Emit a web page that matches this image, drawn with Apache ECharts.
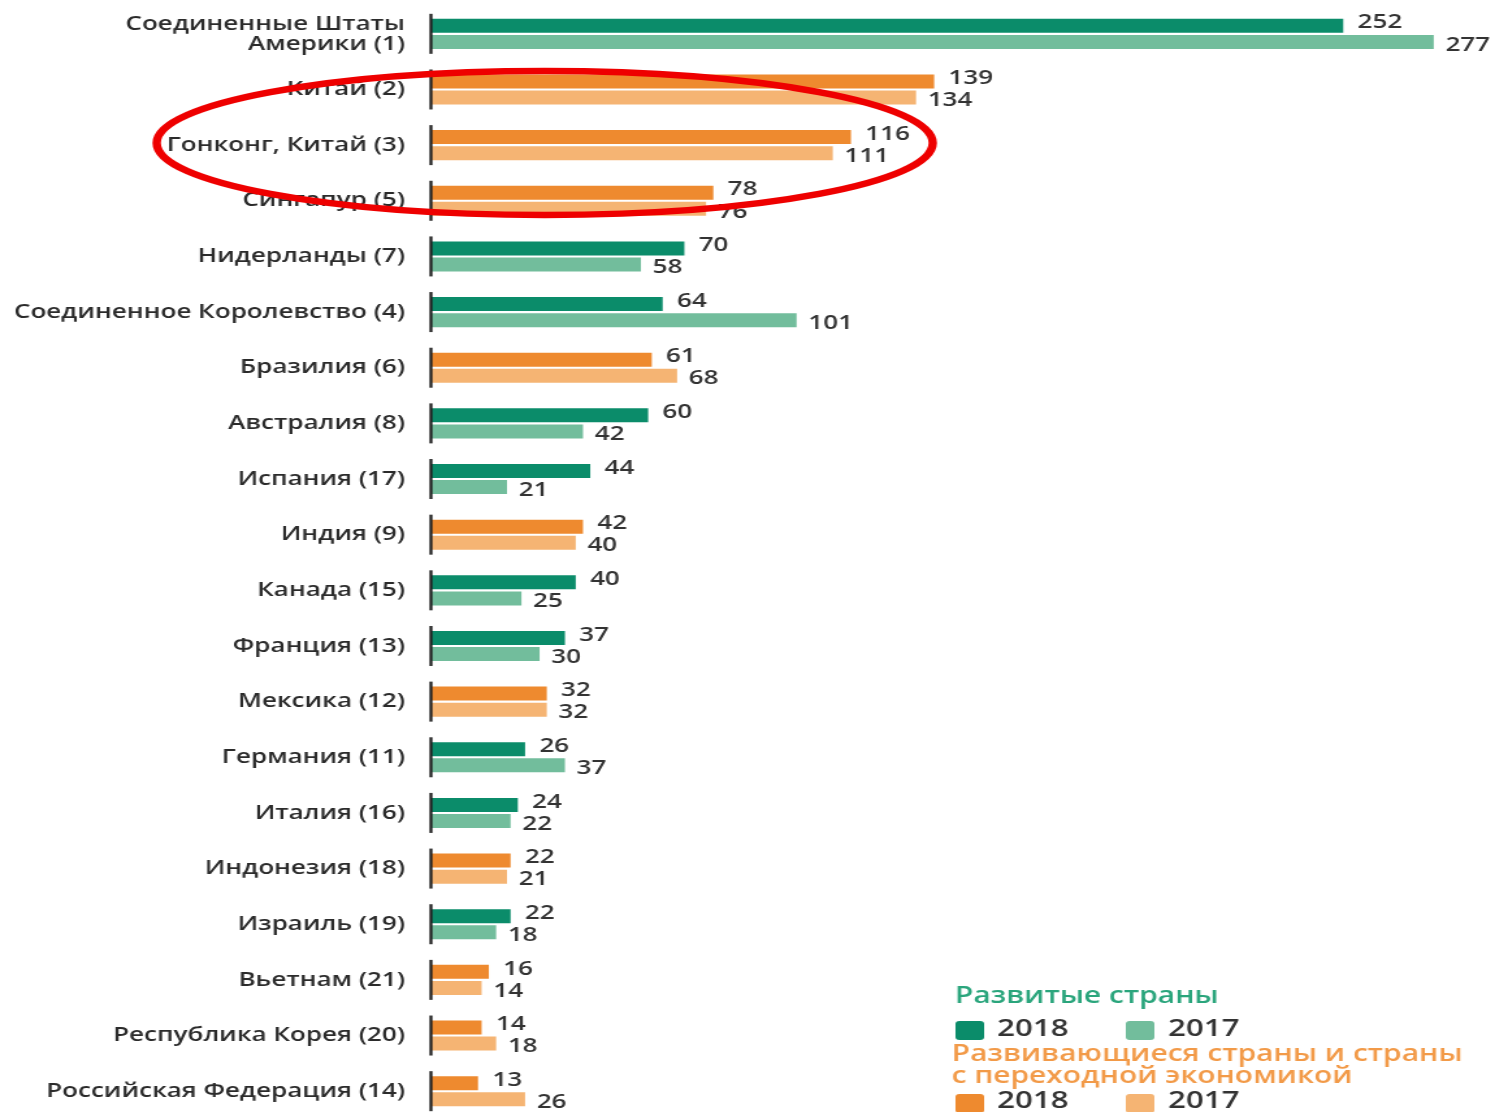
<!DOCTYPE html>
<html><head><meta charset="utf-8">
<script src="https://cdn.jsdelivr.net/npm/echarts@6/dist/echarts.min.js"></script>
<style>
html,body{margin:0;padding:0;background:#fff;overflow:hidden;width:1501px;height:1112px}
#c{width:1155px;height:1125px;transform:scaleX(1.3);transform-origin:0 0}
</style>
</head><body><div id="c"></div>
<script>
const categories = [
  'Соединенные Штаты\nАмерики (1)','Китай (2)','Гонконг, Китай (3)','Сингапур (5)','Нидерланды (7)',
  'Соединенное Королевство (4)','Бразилия (6)','Австралия (8)','Испания (17)','Индия (9)',
  'Канада (15)','Франция (13)','Мексика (12)','Германия (11)','Италия (16)',
  'Индонезия (18)','Израиль (19)','Вьетнам (21)','Республика Корея (20)','Российская Федерация (14)'
];
// 'dev' = developed, 'devg' = developing / transition economies
const groups = ['dev','devg','devg','devg','dev','dev','devg','dev','dev','devg',
                'dev','dev','devg','dev','dev','devg','dev','devg','devg','devg'];
const values2018 = [252,139,116,78,70,64,61,60,44,42,40,37,32,26,24,22,22,16,14,13];
const values2017 = [277,134,111,76,58,101,68,42,21,40,25,30,32,37,22,21,18,14,18,26];

const colors = {
  dev:  {y2018:'#0b8c6a', y2017:'#72bd9c'},
  devg: {y2018:'#ee8a2f', y2017:'#f5b473'}
};

const chart = echarts.init(document.getElementById('c'));
const labelFont = {color:'#333', fontFamily:'Open Sans', fontWeight:600, fontSize:20};
chart.setOption({
  animation:false,
  grid:{left:331.5, top:6, width:807.6, height:1113, containLabel:false},
  xAxis:{type:'value', min:0, max:290, show:false},
  yAxis:{type:'category', data:categories, inverse:true,
    axisLine:{show:false}, axisTick:{show:false},
    axisLabel:{margin:20, color:'#2b2b2b', fontFamily:'Open Sans', fontWeight:600, fontSize:20, lineHeight:20, align:'right'}},
  series:[
    {type:'bar', name:'2018', barWidth:14, barGap:'15%',
     data: values2018.map((v,i)=>({value:v, itemStyle:{color:colors[groups[i]].y2018}})),
     label:{show:true, position:'right', distance:11, offset:[0,-3], ...labelFont}},
    {type:'bar', name:'2017', barWidth:14, barGap:'15%',
     data: values2017.map((v,i)=>({value:v, itemStyle:{color:colors[groups[i]].y2017}})),
     label:{show:true, position:'right', distance:9, offset:[0,3], ...labelFont}},
    {type:'custom', silent:true, z:5,
     data: categories.map((c,i)=>[0,i]),
     encode:{x:0, y:1},
     renderItem:function(params, api){
       const p = api.coord([0, api.value(1)]);
       return {type:'line', shape:{x1:p[0], y1:p[1]-20, x2:p[0], y2:p[1]+20},
               style:{stroke:'#222', lineWidth:2.3}};
     }}
  ],
  graphic:[
    {type:'ellipse', shape:{cx:419, cy:143, rx:298.5, ry:72},
     style:{fill:'none', stroke:'#ee0000', lineWidth:6.5}, z:100},
    {type:'text', left:734.6, top:985, style:{text:'Развитые страны', fill:'#2aa57c', font:'600 23px "Open Sans"'}},
    {type:'rect', shape:{x:735, y:1021, width:22, height:19, r:3}, style:{fill:colors.dev.y2018}},
    {type:'text', left:767, top:1017, style:{text:'2018', fill:'#333', font:'600 24px "Open Sans"'}},
    {type:'rect', shape:{x:866, y:1021, width:22, height:19, r:3}, style:{fill:colors.dev.y2017}},
    {type:'text', left:898.5, top:1017, style:{text:'2017', fill:'#333', font:'600 24px "Open Sans"'}},
    {type:'text', left:732, top:1043, style:{text:'Развивающиеся страны и страны\nс переходной экономикой', fill:'#f29a48', font:'600 23px "Open Sans"', lineHeight:22}},
    {type:'rect', shape:{x:735, y:1094, width:22, height:19, r:3}, style:{fill:colors.devg.y2018}},
    {type:'text', left:767, top:1089, style:{text:'2018', fill:'#333', font:'600 24px "Open Sans"'}},
    {type:'rect', shape:{x:866, y:1094, width:22, height:19, r:3}, style:{fill:colors.devg.y2017}},
    {type:'text', left:898.5, top:1089, style:{text:'2017', fill:'#333', font:'600 24px "Open Sans"'}}
  ]
});
</script></body></html>
